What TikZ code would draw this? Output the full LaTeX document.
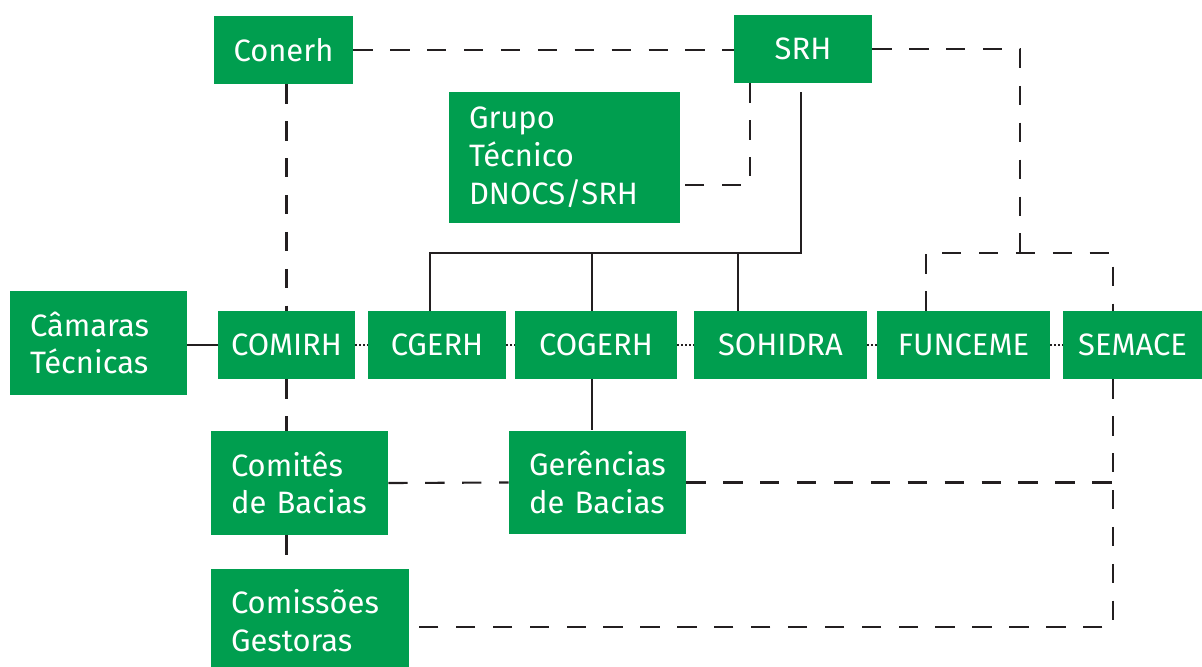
\documentclass[tikz,border=0pt]{standalone}
\usepackage{fontspec}
\setmainfont{Fira Sans}
\usepackage{tikz}
\usetikzlibrary{positioning,calc}
\definecolor{sgreen}{RGB}{0,158,79}
\definecolor{sline}{RGB}{35,31,32}

\begin{document}
\begin{tikzpicture}[
    x=0.02cm, y=-0.02cm,
    box/.style={rectangle, fill=sgreen, text=white, inner sep=0pt, minimum height=1.36cm, font=\fontsize{17.6}{21.5}\selectfont},
    tallbox/.style={box, minimum height=2.08cm, inner xsep=0.4cm, align=left},
    link/.style={draw=sline, line width=1.2pt},
    dashlink/.style={link, dash pattern=on 11pt off 10pt},
    dotlink/.style={link, dash pattern=on 1.2pt off 1pt}
]
\clip (0,0) rectangle (1202,666);

% Top row
\node[box, minimum width=2.78cm] (conerh) at (283.5, 50) {Conerh};
\node[box, minimum width=2.76cm] (srh) at (803, 49) {SRH};
\node[tallbox, text width=3.82cm, minimum height=2.62cm] (grupo) at (564.5, 157.5) {Grupo\\Técnico\\DNOCS/SRH};

% Middle row
\node[tallbox, text width=2.74cm] (camaras) at (98.5, 343) {Câmaras\\Técnicas};
\node[box, minimum width=2.74cm] (comirh) at (286.5, 345) {COMIRH};
\node[box, minimum width=2.76cm] (cgerh) at (437, 345) {CGERH};
\node[box, minimum width=3.24cm] (cogerh) at (596, 345) {COGERH};
\node[box, minimum width=3.46cm] (sohidra) at (780.5, 345) {SOHIDRA};
\node[box, minimum width=3.46cm] (funceme) at (963.5, 345) {FUNCEME};
\node[box, minimum width=2.78cm] (semace) at (1132.5, 345) {SEMACE};

% Bottom rows
\node[tallbox, text width=2.74cm] (comites) at (299.5, 483) {Comitês\\\mbox{de Bacias}};
\node[tallbox, text width=2.74cm] (gerencias) at (597.5, 482.5) {\mbox{Gerências}\\\mbox{de Bacias}};
\node[tallbox, text width=3.16cm] (comissoes) at (310, 621) {Comissões\\Gestoras};

% Junctions
\coordinate (tr) at (801, 253);
\coordinate (t1) at (430, 253);
\coordinate (t2) at (592, 253);
\coordinate (t3) at (738, 253);
\coordinate (fork) at (1020, 253);
\coordinate (fj) at (926, 253);
\coordinate (sj) at (1113, 253);
\coordinate (gt) at (750, 185);
\coordinate (cg) at (1113, 627);

% Solid lines
\draw[link] ([yshift=-5pt]srh.south -| tr) -- (tr) -- (t1) -- (t1 |- cgerh.north);
\draw[link] (t2) -- (t2 |- cogerh.north);
\draw[link] (t3) -- (t3 |- sohidra.north);
\draw[link] (cogerh.south -| t2) -- (gerencias.north -| t2);
\draw[link] (camaras.east |- comirh) -- (comirh.west);

% Dashed lines
\draw[dashlink] (conerh.east) -- (conerh.east -| srh.west);
\draw[dashlink] (gt |- srh.south) -- (gt) -- (grupo.east |- gt);
\draw[dashlink] (srh.east) -| (fork);
\draw[dashlink] (fj |- funceme.north) -- (fj) -- (sj) -- (sj |- semace.north);
\draw[dashlink] (comirh.north |- conerh.south) -- (comirh.north);
\draw[dashlink] (comirh.south) -- (comirh.south |- comites.north);
\draw[dashlink] (comites.south -| comirh) -- (comissoes.north -| comirh);
\draw[dashlink] (comites.east) -- (gerencias.west);
\draw[dashlink] (gerencias.east) -- (gerencias.east -| sj);
\draw[dashlink] (sj |- semace.south) -- (cg) -- (cg -| comissoes.east);

% Dotted lines
\foreach \a/\b in {comirh/cgerh, cgerh/cogerh, cogerh/sohidra, sohidra/funceme, funceme/semace}
    \draw[dotlink] (\a.east) -- (\b.west);

\end{tikzpicture}
\end{document}
